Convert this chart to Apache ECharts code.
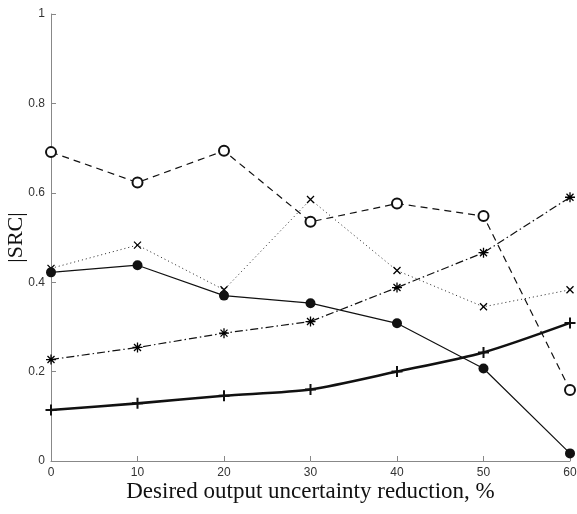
<!DOCTYPE html>
<html>
<head>
<meta charset="utf-8">
<script src="https://cdn.jsdelivr.net/npm/echarts@6/dist/echarts.min.js"></script>
<style>
  html, body { margin: 0; padding: 0; background: #fff; }
  #main { width: 577px; height: 514px; }
</style>
</head>
<body>
<div id="main"></div>
<script>
var reduction = [0, 10, 20, 30, 40, 50, 60];
var openCircle = [0.691, 0.623, 0.694, 0.535, 0.576, 0.548, 0.159];
var crossDot = [0.431, 0.483, 0.383, 0.585, 0.426, 0.345, 0.383];
var filledCircle = [0.422, 0.438, 0.370, 0.353, 0.308, 0.207, 0.017];
var starDashDot = [0.227, 0.254, 0.286, 0.312, 0.388, 0.466, 0.590];
var plusThick = [0.114, 0.129, 0.146, 0.160, 0.200, 0.243, 0.309];

var crossPath = 'path://M0,0L10,10M10,0L0,10';
var plusPath = 'path://M5,0L5,10M0,5L10,5';
var starPath = 'path://M5,0L5,10M0,5L10,5M1.5,1.5L8.5,8.5M8.5,1.5L1.5,8.5';

function pairs(ys) {
  return reduction.map(function (x, i) { return [x, ys[i]]; });
}

var chartDom = document.getElementById('main');
var myChart = echarts.init(chartDom, null, { renderer: 'canvas' });

var strokeMarker = { color: '#000', borderColor: '#000', borderWidth: 1.3 };

var option = {
  animation: false,
  backgroundColor: '#fff',
  grid: { left: 51, right: 7, top: 14, bottom: 53, containLabel: false, outerBoundsMode: 'none' },
  xAxis: {
    type: 'value',
    min: 0, max: 60, interval: 10,
    name: 'Desired output uncertainty reduction, %',
    nameLocation: 'middle',
    nameGap: 19,
    nameMoveOverlap: false,
    nameTextStyle: { fontFamily: 'Liberation Serif', fontSize: 23, color: '#111' },
    axisLine: { lineStyle: { color: '#888', width: 1 } },
    axisTick: { inside: true, length: 5, lineStyle: { color: '#888' } },
    axisLabel: { fontFamily: 'Liberation Sans', fontSize: 12, color: '#333', margin: 6 },
    splitLine: { show: false }
  },
  yAxis: {
    type: 'value',
    min: 0, max: 1, interval: 0.2,
    name: '|SRC|',
    nameLocation: 'middle',
    nameRotate: 90,
    nameGap: 24,
    nameMoveOverlap: false,
    nameTextStyle: { fontFamily: 'Liberation Serif', fontSize: 22, color: '#111' },
    axisLine: { show: true, lineStyle: { color: '#888', width: 1 } },
    axisTick: { show: true, inside: true, length: 5, lineStyle: { color: '#888' } },
    axisLabel: { fontFamily: 'Liberation Sans', fontSize: 12, color: '#333', margin: 6 },
    splitLine: { show: false }
  },
  series: [
    {
      type: 'line',
      data: pairs(openCircle),
      symbol: 'emptyCircle',
      symbolSize: 10,
      lineStyle: { color: '#111', width: 1.2, type: [7, 5] },
      itemStyle: { color: '#111', borderColor: '#111', borderWidth: 1.3 }
    },
    {
      type: 'line',
      data: pairs(crossDot),
      symbol: crossPath,
      symbolSize: 7,
      lineStyle: { color: '#222', width: 1, type: [1, 3] },
      itemStyle: strokeMarker
    },
    {
      type: 'line',
      data: pairs(filledCircle),
      symbol: 'circle',
      symbolSize: 10,
      lineStyle: { color: '#111', width: 1.2, type: 'solid' },
      itemStyle: { color: '#111' }
    },
    {
      type: 'line',
      data: pairs(starDashDot),
      symbol: starPath,
      symbolSize: 10,
      lineStyle: { color: '#111', width: 1.2, type: [8, 3, 1.5, 3] },
      itemStyle: strokeMarker
    },
    {
      type: 'line',
      data: pairs(plusThick),
      symbol: plusPath,
      symbolSize: 11,
      smooth: 0.25,
      lineStyle: { color: '#111', width: 2.6, type: 'solid' },
      itemStyle: { color: '#111', borderColor: '#111', borderWidth: 2 }
    }
  ]
};

myChart.setOption(option);
</script>
</body>
</html>
